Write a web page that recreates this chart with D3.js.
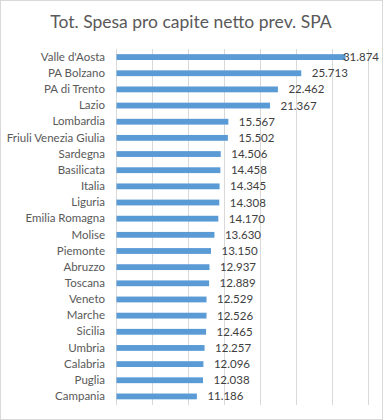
<!DOCTYPE html>
<html><head><meta charset="utf-8">
<script src="https://cdn.jsdelivr.net/npm/d3@7/dist/d3.min.js"></script>
<style>body{margin:0;background:#fff}svg{display:block}</style>
</head><body>
<svg id="c" width="383" height="420"></svg>
<script>
const title = "Tot. Spesa pro capite netto prev. SPA";
const regions = ["Valle d'Aosta","PA Bolzano","PA di Trento","Lazio","Lombardia","Friuli Venezia Giulia","Sardegna","Basilicata","Italia","Liguria","Emilia Romagna","Molise","Piemonte","Abruzzo","Toscana","Veneto","Marche","Sicilia","Umbria","Calabria","Puglia","Campania"];
const values = [31874,25713,22462,21367,15567,15502,14506,14458,14345,14308,14170,13630,13150,12937,12889,12529,12526,12465,12257,12096,12038,11186];
const xTicks = [0,5000,10000,15000,20000,25000,30000,35000];

const svg = d3.select("#c");
const W = 383, H = 420;
const font = "Lato, 'Open Sans', sans-serif";
svg.append("rect").attr("x",0.5).attr("y",0.5).attr("width",W-1).attr("height",H-1)
  .attr("fill","#fff").attr("stroke","#d9d9d9");

svg.append("text").attr("x",191).attr("y",28).attr("text-anchor","middle")
  .attr("font-family",font).attr("font-size",17.5).attr("fill","#595959").text(title);

const x = d3.scaleLinear().domain([0,35000]).range([116,367.5]);
const y = d3.scaleBand().domain(regions).range([49,404.5]).paddingInner(0.64).paddingOuter(0.32);

const g = svg.append("g");
g.selectAll("line.grid").data(xTicks).join("line").attr("class","grid")
  .attr("x1",d=>Math.round(x(d))+0.5).attr("x2",d=>Math.round(x(d))+0.5)
  .attr("y1",49).attr("y2",405).attr("stroke","#d9d9d9").attr("stroke-width",1);

g.selectAll("rect.bar").data(values).join("rect").attr("class","bar")
  .attr("x",x(0)+0.5).attr("y",(d,i)=>y(regions[i]))
  .attr("width",d=>x(d)-x(0)).attr("height",y.bandwidth()).attr("fill","#5b9bd5");

const yAxis = d3.axisLeft(y).tickSize(0).tickPadding(0);
const ya = svg.append("g").attr("transform","translate(105,0)").call(yAxis);
ya.select(".domain").remove();
ya.selectAll("text").attr("font-family",font).attr("font-size",11.5).attr("fill","#595959");

const loc = d3.formatLocale({decimal:",",thousands:".",grouping:[3],currency:["€",""]});
const fmt = loc.format(",d");
const lbl = g.selectAll("text.val").data(values).join("text").attr("class","val")
  .attr("y",(d,i)=>y(regions[i])+y.bandwidth()/2).attr("dy","0.35em")
  .attr("font-family",font).attr("font-size",11.5).attr("fill","#404040")
  .text(d=>fmt(d));
lbl.each(function(d){
  const w = this.getComputedTextLength();
  let sx = x(d)+11;
  if (sx + w > 379) sx = 379 - w;
  d3.select(this).attr("x",sx);
});
</script>
</body></html>
